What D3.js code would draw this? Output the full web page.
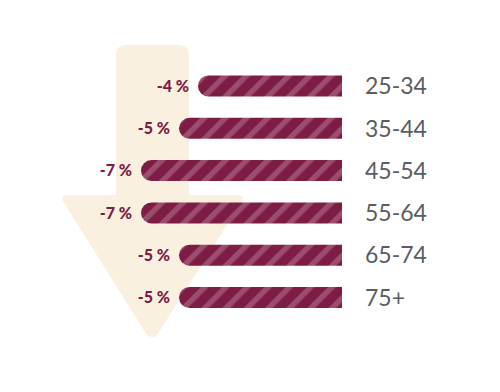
<!DOCTYPE html>
<html>
<head>
<meta charset="utf-8">
<script src="https://cdn.jsdelivr.net/npm/d3@7"></script>
<style>
    html, body { margin: 0; padding: 0; background: #fff; }
    svg { display: block; }
</style>
</head>
<body>
<div id="chart"></div>
<script>
// data
const ageGroups = ['25-34', '35-44', '45-54', '55-64', '65-74', '75+'];
const changes = [-4, -5, -7, -7, -5, -5];
const changeLabels = ['-4 %', '-5 %', '-7 %', '-7 %', '-5 %', '-5 %'];

const width = 500, height = 392;
const barRight = 342, barH = 21;

const svg = d3.select('#chart')
    .append('svg')
        .attr('width', width)
        .attr('height', height);

// stripe pattern for the bars
const defs = svg.append('defs');
const pat = defs.append('pattern')
    .attr('id', 'stripes')
    .attr('patternUnits', 'userSpaceOnUse')
    .attr('width', 15)
    .attr('height', 15)
    .attr('patternTransform', 'rotate(45)');
pat.append('rect')
    .attr('width', 15).attr('height', 15)
    .attr('fill', '#7d1c44');
pat.append('rect')
    .attr('width', 5.5).attr('height', 15)
    .attr('fill', '#9c4c6c');

// background arrow, rounded corners
const arrowPts = [[116,45],[189,45],[189,195],[246,195],[152,343],[59,195],[116,195]];
const radii = [10,10,0,9,14,9,0];
function roundedPath(pts, rs){
    let d = '';
    const n = pts.length;
    pts.forEach((p, i) => {
        const prev = pts[(i - 1 + n) % n], next = pts[(i + 1) % n];
        const r = rs[i];
        const v1 = [prev[0]-p[0], prev[1]-p[1]], v2 = [next[0]-p[0], next[1]-p[1]];
        const l1 = Math.hypot(v1[0], v1[1]), l2 = Math.hypot(v2[0], v2[1]);
        const a = [p[0]+v1[0]/l1*r, p[1]+v1[1]/l1*r];
        const b = [p[0]+v2[0]/l2*r, p[1]+v2[1]/l2*r];
        d += (i === 0 ? 'M' : 'L') + a[0] + ',' + a[1];
        d += 'Q' + p[0] + ',' + p[1] + ' ' + b[0] + ',' + b[1];
    });
    return d + 'Z';
}
svg.append('path')
    .attr('d', roundedPath(arrowPts, radii))
    .attr('fill', '#faf0e0');

// scales
const x = d3.scaleLinear()
    .domain([0, -7])
    .range([274, 141]);

const y = d3.scalePoint()
    .domain(ageGroups)
    .range([86, 297.5]);

const rows = ageGroups.map((g, i) => ({ group: g, value: changes[i], label: changeLabels[i] }));

const barPath = d => {
    const x0 = x(d.value), top = y(d.group) - barH/2, r = barH/2;
    return `M${barRight},${top}H${x0 + r}A${r},${r} 0 0 0 ${x0 + r},${top + barH}H${barRight}Z`;
};

svg.selectAll('path.bar')
    .data(rows)
    .enter()
    .append('path')
        .attr('class', 'bar')
        .attr('d', barPath)
        .attr('fill', 'url(#stripes)');

svg.selectAll('text.pct')
    .data(rows)
    .enter()
    .append('text')
        .attr('class', 'pct')
        .attr('x', d => x(d.value) - 9)
        .attr('y', d => y(d.group))
        .attr('dy', '0.35em')
        .attr('text-anchor', 'end')
        .style('font-family', 'Lato, sans-serif')
        .style('font-weight', '900')
        .style('font-size', '16px')
        .style('fill', '#7d1c44')
        .text(d => d.label);

svg.selectAll('text.age')
    .data(rows)
    .enter()
    .append('text')
        .attr('class', 'age')
        .attr('x', 365)
        .attr('y', d => y(d.group))
        .attr('dy', '0.36em')
        .style('font-family', 'Lato, sans-serif')
        .style('font-size', '23px')
        .style('fill', '#5a5d63')
        .text(d => d.group);
</script>
</body>
</html>
